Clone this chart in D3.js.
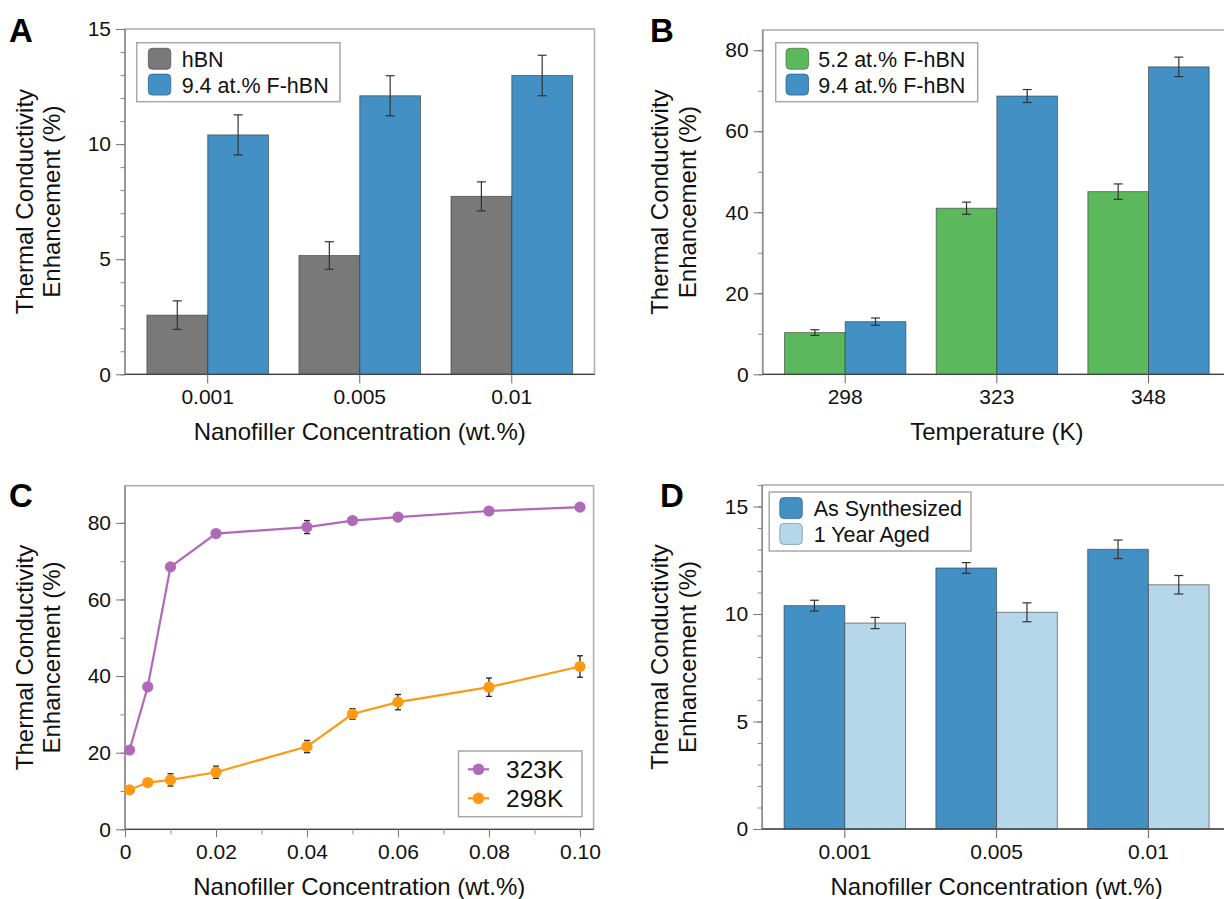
<!DOCTYPE html>
<html><head><meta charset="utf-8">
<script src="https://cdn.jsdelivr.net/npm/d3@7"></script>
<style>
body{margin:0;background:#fff;}
svg{display:block;font-family:"Liberation Sans",Arial,Helvetica,sans-serif;}
</style></head>
<body><svg id="fig" width="1224" height="899"></svg>
<script>
// ---------- data ----------
const concCats = ["0.001", "0.005", "0.01"];
const tempCats = ["298", "323", "348"];

// Panel A
const aSeries = ["hBN", "9.4 at.% F-hBN"];
const aHBN = [2.57, 5.16, 7.73];
const aHBNErr = [0.62, 0.60, 0.63];
const aF94 = [10.40, 12.10, 12.98];
const aF94Err = [0.87, 0.87, 0.88];

// Panel B
const bSeries = ["5.2 at.% F-hBN", "9.4 at.% F-hBN"];
const bF52 = [10.3, 41.0, 45.1];
const bF52Err = [0.7, 1.5, 1.9];
const bF94 = [13.0, 68.7, 75.9];
const bF94Err = [0.9, 1.6, 2.4];

// Panel C
const cConc = [0.001, 0.005, 0.01, 0.02, 0.04, 0.05, 0.06, 0.08, 0.10];
const c323 = [20.7, 37.2, 68.5, 77.2, 78.9, 80.6, 81.5, 83.1, 84.1];
const c323Err = [0.5, 0.6, 0.7, 0.6, 1.7, 0.7, 0.6, 0.6, 0.6];
const c298 = [10.3, 12.2, 12.9, 14.9, 21.6, 30.1, 33.2, 37.1, 42.5];
const c298Err = [0.6, 0.7, 1.6, 1.6, 1.6, 1.4, 2.0, 2.4, 2.8];
const cLegend = ["323K", "298K"];
const cXTicks = [0, 0.02, 0.04, 0.06, 0.08, 0.10];
const cXTickLabels = ["0", "0.02", "0.04", "0.06", "0.08", "0.10"];

// Panel D
const dSeries = ["As Synthesized", "1 Year Aged"];
const dSynth = [10.39, 12.14, 13.01];
const dSynthErr = [0.25, 0.25, 0.43];
const dAged = [9.58, 10.08, 11.36];
const dAgedErr = [0.26, 0.44, 0.43];

const yTitle = ["Thermal Conductivity", "Enhancement (%)"];

// ---------- style ----------
const COL = {grey:"#797979", blue:"#4390c5", green:"#5cb85c", light:"#b5d7e9", purple:"#b068b9", orange:"#fd9a12"};
const TICK_FS = 21, TITLE_FS = 24, LEG_FS = 21.5;

const svg = d3.select("#fig");
svg.append("rect").attr("width",1224).attr("height",899).attr("fill","#fff");

function frame(g, L){
  g.append("rect").attr("x",L.x0).attr("y",L.y1).attr("width",L.x1-L.x0).attr("height",L.y0-L.y1)
    .attr("fill","none").attr("stroke","#b0b0b0").attr("stroke-width",1.6);
}
function yAxis(g, L, y, majors, minors){
  g.append("line").attr("x1",L.x0).attr("x2",L.x0).attr("y1",L.y0).attr("y2",L.y1)
   .attr("stroke","#8f8f8f").attr("stroke-width",1.6);
  const ax = g.append("g").attr("transform",`translate(${L.x0},0)`)
    .call(d3.axisLeft(y).tickValues(minors).tickSize(4.5).tickFormat(""));
  ax.select(".domain").remove();
  ax.selectAll("line").attr("stroke","#888");
  const ax2 = g.append("g").attr("transform",`translate(${L.x0},0)`)
    .call(d3.axisLeft(y).tickValues(majors).tickSize(9).tickPadding(5).tickFormat(d3.format("d")));
  ax2.select(".domain").remove();
  ax2.selectAll("line").attr("stroke","#777");
  ax2.selectAll("text").attr("font-size",TICK_FS).attr("fill","#111").attr("font-family",null);
}
function bottomLine(g, L){
  g.append("line").attr("x1",L.x0).attr("x2",L.x1).attr("y1",L.y0).attr("y2",L.y0)
   .attr("stroke","#444").attr("stroke-width",1.3);
}
function titles(g, L, xt){
  const cy = (L.y0+L.y1)/2;
  yTitle.forEach((t,i)=>{
    g.append("text").attr("transform",`translate(${L.tx + i*27.4},${cy}) rotate(-90)`)
     .attr("text-anchor","middle").attr("font-size",TITLE_FS).attr("fill","#111").text(t);
  });
  g.append("text").attr("x",(L.x0+L.x1)/2).attr("y",L.y0+66).attr("text-anchor","middle")
   .attr("font-size",TITLE_FS).attr("fill","#111").text(xt);
}
function panelLetter(g, x, y, t){
  g.append("text").attr("x",x).attr("y",y).attr("font-size",33).attr("font-weight","bold")
   .attr("fill","#000").text(t);
}
function barLegend(g, bx, by, bw, names, colors, sx, tx){
  g.append("rect").attr("x",bx).attr("y",by).attr("width",bw).attr("height",59)
   .attr("fill","#fff").attr("stroke","#a8a8a8").attr("stroke-width",1.5);
  names.forEach((n,i)=>{
    g.append("rect").attr("x",sx).attr("y",by+5.6+i*25.8).attr("width",22.5).attr("height",21)
     .attr("rx",4).attr("fill",colors[i]).attr("stroke",d3.color(colors[i]).darker(1.2)).attr("stroke-opacity",0.7);
    g.append("text").attr("x",tx).attr("y",by+24+i*26.2).attr("font-size",LEG_FS).attr("fill","#111").text(n);
  });
}
function barPanel(L, cats, series, colors, vals, errs, domainMax, majors, minors, xt, leg){
  const g = svg.append("g");
  const x = d3.scaleBand().domain(cats).range([L.x0, L.x1]).paddingInner(0.2).paddingOuter(0.144);
  const x1 = d3.scaleBand().domain(series).range([0, x.bandwidth()]);
  const y = d3.scaleLinear().domain([0, domainMax]).range([L.y0, L.y1]);
  frame(g, L);
  series.forEach((s, si)=>{
    g.selectAll(null).data(cats).enter().append("rect")
      .attr("x", c => x(c)+x1(s)).attr("y", (c,i)=>y(vals[si][i]))
      .attr("width", x1.bandwidth()).attr("height", (c,i)=>y(0)-y(vals[si][i]))
      .attr("fill", colors[si]).attr("stroke","#2a2a2a").attr("stroke-opacity",0.55).attr("stroke-width",1);
  });
  series.forEach((s, si)=>{
    cats.forEach((c,i)=>{
      const cx = x(c)+x1(s)+x1.bandwidth()/2;
      const v = vals[si][i], e = errs[si][i];
      const eg = g.append("g").attr("stroke","#333").attr("stroke-width",1.2);
      eg.append("line").attr("x1",cx).attr("x2",cx).attr("y1",y(v+e)).attr("y2",y(v-e));
      [v+e, v-e].forEach(t=> eg.append("line").attr("x1",cx-4.5).attr("x2",cx+4.5).attr("y1",y(t)).attr("y2",y(t)));
    });
  });
  yAxis(g, L, y, majors, minors);
  bottomLine(g, L);
  const xa = g.append("g").attr("transform",`translate(0,${L.y0})`)
    .call(d3.axisBottom(x).tickSize(9).tickPadding(6));
  xa.select(".domain").remove();
  xa.selectAll("line").attr("stroke","#666");
  xa.selectAll("text").attr("font-size",TICK_FS).attr("fill","#111").attr("font-family",null);
  titles(g, L, xt);
  barLegend(g, leg.bx, leg.by, leg.bw, series, colors, leg.sx, leg.tx);
  return g;
}

// ---------- Panel A ----------
const LA = {x0:125, x1:594.5, y0:374.3, y1:29, tx:32.8};
barPanel(LA, concCats, aSeries, [COL.grey, COL.blue], [aHBN, aF94], [aHBNErr, aF94Err], 15,
  [0,5,10,15], d3.range(0,16,1), "Nanofiller Concentration (wt.%)",
  {bx:136.7, by:42.7, bw:203.3, sx:148.3, tx:181.7});
panelLetter(svg, 9, 41.7, "A");

// ---------- Panel B ----------
const LB = {x0:762.7, x1:1231, y0:374.3, y1:30, tx:668.2};
barPanel(LB, tempCats, bSeries, [COL.green, COL.blue], [bF52, bF94], [bF52Err, bF94Err], 85,
  [0,20,40,60,80], d3.range(0,81,10), "Temperature (K)",
  {bx:775.7, by:42.7, bw:202, sx:786, tx:818.3});
panelLetter(svg, 650, 41.7, "B");

// ---------- Panel D ----------
const LD = {x0:762.2, x1:1231, y0:829, y1:485, tx:668.2};
barPanel(LD, concCats, dSeries, [COL.blue, COL.light], [dSynth, dAged], [dSynthErr, dAgedErr], 16,
  [0,5,10,15], d3.range(0,17,1), "Nanofiller Concentration (wt.%)",
  {bx:769.2, by:492, bw:201.8, sx:779.8, tx:813.7});
panelLetter(svg, 660, 507, "D");

// ---------- Panel C ----------
(function(){
  const L = {x0:125, x1:593.6, y0:829.3, y1:485.7, tx:32.8};
  const g = svg.append("g");
  const x = d3.scaleLinear().domain([0, 0.103]).range([L.x0, L.x1]);
  const y = d3.scaleLinear().domain([0, 89.7]).range([L.y0, L.y1]);
  frame(g, L);
  yAxis(g, L, y, [0,20,40,60,80], d3.range(0,81,10));
  bottomLine(g, L);
  const xm = g.append("g").attr("transform",`translate(0,${L.y0})`)
    .call(d3.axisBottom(x).tickValues(d3.range(0,0.101,0.01)).tickSize(5).tickFormat(""));
  xm.select(".domain").remove(); xm.selectAll("line").attr("stroke","#888");
  const xa = g.append("g").attr("transform",`translate(0,${L.y0})`)
    .call(d3.axisBottom(x).tickValues(cXTicks).tickSize(8).tickPadding(7).tickFormat((d,i)=>cXTickLabels[i]));
  xa.select(".domain").remove(); xa.selectAll("line").attr("stroke","#777");
  xa.selectAll("text").attr("font-size",TICK_FS).attr("fill","#111").attr("font-family",null);

  const series = [{v:c323, e:c323Err, c:COL.purple}, {v:c298, e:c298Err, c:COL.orange}];
  const line = d3.line().x((d,i)=>x(cConc[i])).y(d=>y(d));
  series.forEach(s=>{
    g.append("path").datum(s.v).attr("d", line).attr("fill","none").attr("stroke",s.c).attr("stroke-width",2.2);
  });
  series.forEach(s=>{
    s.v.forEach((v,i)=>{
      const cx = x(cConc[i]);
      const eg = g.append("g").attr("stroke","#222").attr("stroke-width",1.3);
      eg.append("line").attr("x1",cx).attr("x2",cx).attr("y1",y(v+s.e[i])).attr("y2",y(v-s.e[i]));
      [v+s.e[i], v-s.e[i]].forEach(t=>eg.append("line").attr("x1",cx-3).attr("x2",cx+3).attr("y1",y(t)).attr("y2",y(t)));
    });
    g.selectAll(null).data(s.v).enter().append("circle")
      .attr("cx",(d,i)=>x(cConc[i])).attr("cy",d=>y(d)).attr("r",5.6).attr("fill",s.c);
  });
  titles(g, L, "Nanofiller Concentration (wt.%)");
  // legend
  g.append("rect").attr("x",458.5).attr("y",751).attr("width",123.5).attr("height",65.7)
    .attr("fill","#fff").attr("stroke","#a8a8a8").attr("stroke-width",1.5);
  series.forEach((s,i)=>{
    const ly = 769.3 + i*29;
    g.append("line").attr("x1",468).attr("x2",489).attr("y1",ly).attr("y2",ly).attr("stroke",s.c).attr("stroke-width",2.2);
    g.append("circle").attr("cx",478.5).attr("cy",ly).attr("r",5.8).attr("fill",s.c);
    g.append("text").attr("x",506).attr("y",ly+8.8).attr("font-size",24.5).attr("fill","#111").text(cLegend[i]);
  });
  panelLetter(svg, 9, 507, "C");
})();
</script></body></html>
